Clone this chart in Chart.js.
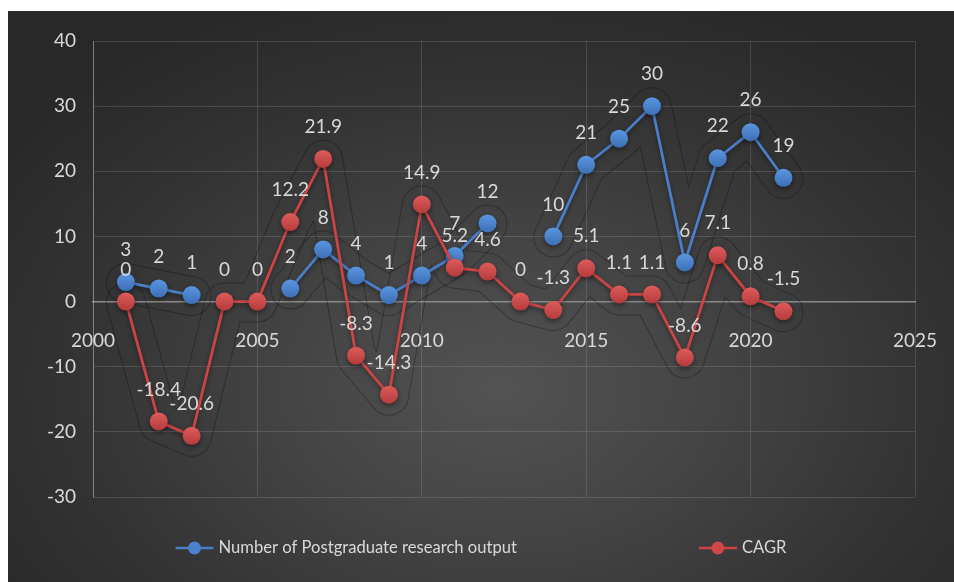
<!DOCTYPE html>
<html><head><meta charset="utf-8">
<script src="https://cdn.jsdelivr.net/npm/chart.js@4.4.1/dist/chart.umd.min.js"></script>
<style>
html,body{margin:0;padding:0;background:#fff;width:954px;height:582px;overflow:hidden}
#wrap{position:absolute;left:8px;top:11px;width:946px;height:571px;
background: radial-gradient(ellipse 65% 75% at 52% 66%, #535353 0%, #444 35%, #333 70%, #282828 100%);}
canvas{display:block}
</style></head><body>
<div id="wrap"><canvas id="c" width="946" height="571"></canvas></div>
<script>
const years = [2001,2002,2003,2004,2005,2006,2007,2008,2009,2010,2011,2012,2013,2014,2015,2016,2017,2018,2019,2020,2021];
const outputCounts = [3,2,1,null,null,2,8,4,1,4,7,12,null,10,21,25,30,6,22,26,19];
const cagr = [0,-18.4,-20.6,0,0,12.2,21.9,-8.3,-14.3,14.9,5.2,4.6,0,-1.3,5.1,1.1,1.1,-8.6,7.1,0.8,-1.5];
const seriesNames = ['Number of Postgraduate research output','CAGR'];
const xRange = [2000, 2025];
const yRange = [-30, 40];

const TXT = '#d9d9d9';
const BLUE = '#4a82cf', BLUE_LINE = '#4a7ec8', BLUE_HI = '#5b96e0', BLUE_LO = '#3c6fb6';
const RED = '#cf4747', RED_LINE = '#cc4444', RED_HI = '#de5b5b', RED_LO = '#b53b3b';

function pointFill(hi, lo, solid) {
  return (c) => {
    if (c.type !== 'data' || !c.parsed || c.parsed.y === null || isNaN(c.parsed.y)) return solid;
    const ys = c.chart.scales.y;
    if (!ys) return solid;
    const py = ys.getPixelForValue(c.parsed.y);
    if (!isFinite(py)) return solid;
    const g = c.chart.ctx.createLinearGradient(0, py - 9, 0, py + 9);
    g.addColorStop(0, hi); g.addColorStop(1, lo);
    return g;
  };
}

const glowPlugin = {
  id: 'glow',
  beforeDatasetsDraw(chart) {
    const w = chart.width, h = chart.height;
    const off = document.createElement('canvas'); off.width = w; off.height = h;
    const o = off.getContext('2d');
    chart.data.datasets.forEach((ds, di) => {
      const pts = chart.getDatasetMeta(di).data;
      o.clearRect(0, 0, w, h);
      const path = (lw) => {
        o.lineWidth = lw; o.lineJoin = 'round'; o.lineCap = 'round';
        o.beginPath(); let started = false;
        pts.forEach((p, i) => {
          const v = ds.data[i].y;
          if (v === null || v === undefined) { started = false; return; }
          if (!started) { o.moveTo(p.x, p.y + 1); o.lineTo(p.x + 0.01, p.y + 1); started = true; }
          else o.lineTo(p.x, p.y + 1);
        });
        o.stroke();
      };
      o.globalCompositeOperation = 'source-over'; o.strokeStyle = '#000';
      path(40);
      o.globalCompositeOperation = 'destination-out';
      path(38);
      o.globalCompositeOperation = 'source-over';
      const ctx = chart.ctx; ctx.save(); ctx.globalAlpha = 0.28;
      ctx.drawImage(off, 0, 0); ctx.restore();
    });
  }
};

const shadowPlugin = {
  id: 'shadow',
  beforeDatasetDraw(chart) {
    const ctx = chart.ctx; ctx.save();
    ctx.shadowColor = 'rgba(0,0,0,0.45)'; ctx.shadowBlur = 5; ctx.shadowOffsetY = 2;
  },
  afterDatasetDraw(chart) { chart.ctx.restore(); }
};

const labelPlugin = {
  id: 'valueLabels',
  afterDatasetsDraw(chart) {
    const ctx = chart.ctx; ctx.save();
    ctx.font = '19px Lato'; ctx.fillStyle = TXT;
    ctx.textAlign = 'center'; ctx.textBaseline = 'middle';
    chart.data.datasets.forEach((ds, di) => {
      const meta = chart.getDatasetMeta(di);
      meta.data.forEach((pt, i) => {
        const v = ds.data[i].y;
        if (v === null || v === undefined) return;
        ctx.fillText(String(v), pt.x, pt.y - 32);
      });
    });
    ctx.restore();
  }
};

const legendPlugin = {
  id: 'customLegend',
  afterDraw(chart) {
    const ctx = chart.ctx; ctx.save();
    ctx.font = '16.6px Lato';
    const items = [{t: seriesNames[0], c: BLUE_LINE, f: BLUE}, {t: seriesNames[1], c: RED_LINE, f: RED}];
    const sym = 38, gapTxt = 5, gapItems = 182;
    const widths = items.map(it => ctx.measureText(it.t).width);
    const total = items.reduce((s, it, i) => s + sym + gapTxt + widths[i], 0) + gapItems;
    let x = (chart.width - total) / 2;
    const y = 537;
    items.forEach((it, i) => {
      ctx.strokeStyle = it.c; ctx.lineWidth = 2.5;
      ctx.beginPath(); ctx.moveTo(x, y); ctx.lineTo(x + sym, y); ctx.stroke();
      ctx.fillStyle = it.f; ctx.beginPath(); ctx.arc(x + sym / 2, y, 6.5, 0, Math.PI * 2); ctx.fill();
      ctx.fillStyle = TXT; ctx.textAlign = 'left'; ctx.textBaseline = 'middle';
      ctx.fillText(it.t, x + sym + gapTxt, y);
      x += sym + gapTxt + widths[i] + gapItems;
    });
    ctx.restore();
  }
};

new Chart(document.getElementById('c'), {
  type: 'line',
  data: {
    datasets: [
      { label: seriesNames[0], data: years.map((x, i) => ({x, y: outputCounts[i]})),
        borderColor: BLUE_LINE, backgroundColor: BLUE, pointBackgroundColor: pointFill(BLUE_HI, BLUE_LO, BLUE), pointBorderColor: BLUE,
        borderWidth: 2.75, pointRadius: 9, pointHoverRadius: 9, pointBorderWidth: 0, tension: 0, spanGaps: false, order: 1 },
      { label: seriesNames[1], data: years.map((x, i) => ({x, y: cagr[i]})),
        borderColor: RED_LINE, backgroundColor: RED, pointBackgroundColor: pointFill(RED_HI, RED_LO, RED), pointBorderColor: RED,
        borderWidth: 2.75, pointRadius: 9, pointHoverRadius: 9, pointBorderWidth: 0, tension: 0, spanGaps: false, order: 0 }
    ]
  },
  options: {
    responsive: false, animation: false, devicePixelRatio: 1,
    layout: { padding: { left: 0, top: 30, right: 39, bottom: 85 } },
    plugins: { legend: { display: false }, tooltip: { enabled: false } },
    scales: {
      x: { type: 'linear', min: xRange[0], max: xRange[1], position: { y: 0 },
        ticks: { stepSize: 5, color: TXT, font: { family: 'Lato', size: 19 }, padding: 0, callback: v => String(v) },
        grid: { color: 'rgba(255,255,255,0.13)', drawTicks: true, tickLength: 28, tickColor: 'rgba(0,0,0,0)', lineWidth: 1 },
        border: { color: '#8a8a8a', width: 1.5 } },
      y: { type: 'linear', min: yRange[0], max: yRange[1],
        ticks: { stepSize: 10, color: TXT, font: { family: 'Lato', size: 19 }, padding: 17 },
        grid: { color: 'rgba(255,255,255,0.13)', drawTicks: false, lineWidth: 1 },
        border: { color: 'rgba(255,255,255,0.3)', width: 1 },
        afterFit: s => { s.width = 85; } }
    }
  },
  plugins: [glowPlugin, shadowPlugin, labelPlugin, legendPlugin]
});
</script>
</body></html>
